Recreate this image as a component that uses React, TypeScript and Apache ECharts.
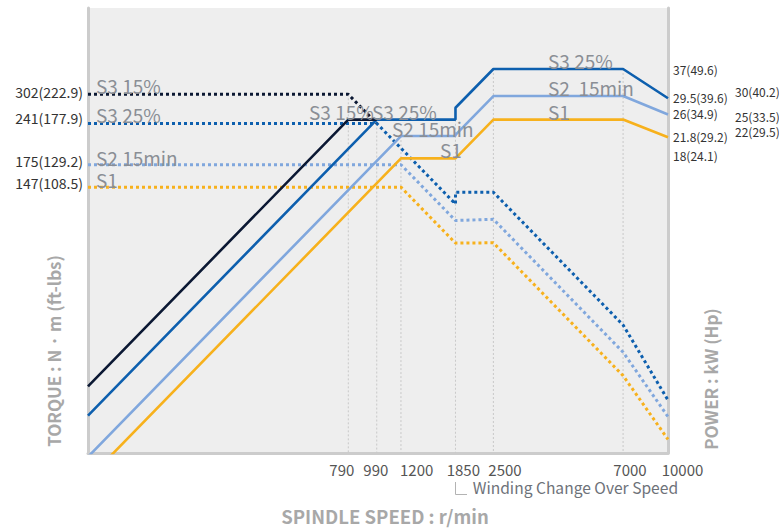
import React, { useEffect, useRef } from 'react';
import * as echarts from 'echarts';

// ---- data: [spindle speed r/min, value] ----
const S3_15_POWER: [number, number][] = [[100, 3.16], [790, 25], [990, 25]];
const S3_25_POWER: [number, number][] = [[100, 2.52], [990, 25], [1850, 25], [1850, 27.4], [2500, 37], [7000, 37], [10000, 29.5]];
const S2_POWER: [number, number][] = [[100, 1.83], [1200, 22], [1850, 22], [1850, 22.2], [2500, 30], [7000, 30], [10000, 26]];
const S1_POWER: [number, number][] = [[100, 1.54], [1200, 18.5], [1850, 18.5], [2500, 25], [7000, 25], [10000, 21.8]];

const S3_15_TORQUE: [number, number][] = [[100, 302], [790, 302], [990, 241]];
const S3_25_TORQUE: [number, number][] = [[100, 241], [990, 241], [1850, 129], [1850, 141.3], [2500, 141.3], [7000, 50.5], [10000, 28.2]];
const S2_TORQUE: [number, number][] = [[100, 175], [1200, 175], [1850, 113.5], [2500, 114.6], [7000, 40.9], [10000, 24.8]];
const S1_TORQUE: [number, number][] = [[100, 147], [1200, 147], [1850, 95.3], [2500, 95.5], [7000, 34.1], [10000, 20.8]];

// drop lines: speed, top value, axis (0 torque, 1 power)
const DROP_SPEEDS = [790, 990, 1200, 1850, 2500, 7000];
const DROP_TOPS = [302, 25, 22, 27.4, 37, 37];
const DROP_AXES = [0, 1, 1, 1, 1, 1];

const X_TICK_LABELS = ['790', '990', '1200', '1850', '2500', '7000', '10000'];
const TORQUE_LABELS = ['302(222.9)', '241(177.9)', '175(129.2)', '147(108.5)'];
const POWER_LABELS_A = ['37(49.6)', '29.5(39.6)', '26(34.9)', '21.8(29.2)', '18(24.1)'];
const POWER_LABELS_B = ['30(40.2)', '25(33.5)', '22(29.5)'];
const LEFT_CURVE_NAMES = ['S3 15%', 'S3 25%', 'S2 15min', 'S1'];
const MID_CURVE_NAMES = ['S3 15%', 'S3 25%', 'S2 15min', 'S1'];
const TOP_CURVE_NAMES = ['S3 25%', 'S2  15min', 'S1'];

// ---- layout ----
const X_MIN = 100, X_MAX = 10000;
const T_MIN = 18.72, T_MAX = 589.6;
const P_MIN = 1.885, P_MAX = 59.38;
const FONT = "'Noto Sans CJK KR', 'Noto Sans', sans-serif";
const C_S3_15 = '#0b1833';
const C_S3_25 = '#0d5fae';
const C_S2 = '#80a7dd';
const C_S1 = '#f7b11c';
const LABEL_GRAY = '#8a8e95';

const TICK_X = [329.3, 363.3, 400, 446.7, 488.3, 613.3, 661.7];
const TORQUE_LABEL_Y = [92, 117.5, 161, 183];
const POWER_A_Y = [69, 97.3, 113.3, 136.7, 155];
const POWER_B_Y = [91.7, 116, 131.7];
const LEFT_NAME_Y = [85.7, 114.7, 157.3, 179.7];
const MID_NAME_POS = [[309, 111.3], [372, 111.3], [392, 128.7], [440, 149]];
const TOP_NAME_Y = [60.3, 87, 111.3];

function text(t: string, x: number, y: number, size: number, color: string, align = 'left', weight = 'normal', rotation = 0) {
  return {
    type: 'text',
    x, y, rotation,
    z: 100,
    silent: true,
    style: {
      text: t,
      fill: color,
      fontSize: size,
      fontFamily: FONT,
      fontWeight: weight,
      align, textAlign: align,
      verticalAlign: 'middle', textVerticalAlign: 'middle',
    },
  };
}

export default function App() {
  const ref = useRef<HTMLDivElement>(null);
  useEffect(() => {
    if (!ref.current) return;
    const chart = echarts.init(ref.current, null, { renderer: 'svg' });

    const powerLine = (name: string, data: [number, number][], color: string, z: number) => ({
      name, type: 'line', data, xAxisIndex: 0, yAxisIndex: 1, showSymbol: false, symbol: 'none', z,
      lineStyle: { color, width: 2.6 }, animation: false, silent: true,
    });
    const torqueLine = (name: string, data: [number, number][], color: string, z: number) => ({
      name, type: 'line', data, xAxisIndex: 0, yAxisIndex: 0, showSymbol: false, symbol: 'none', z,
      lineStyle: { color, width: 3, type: [3, 3], cap: 'butt' }, animation: false, silent: true,
    });
    const drops = DROP_SPEEDS.map((s, i) => ({
      type: 'line', xAxisIndex: 0, yAxisIndex: DROP_AXES[i], showSymbol: false, symbol: 'none', z: 1,
      data: [[s, DROP_TOPS[i]], [s, DROP_AXES[i] === 0 ? T_MIN : P_MIN]],
      lineStyle: { color: '#c9c9c9', width: 1, type: [2, 2] }, silent: true,
    }));

    const graphics: any[] = [];
    X_TICK_LABELS.forEach((t, i) => graphics.push(text(t, TICK_X[i], 469, 15, '#555555')));
    TORQUE_LABELS.forEach((t, i) => graphics.push(text(t, 83, TORQUE_LABEL_Y[i], 14, '#333333', 'right')));
    POWER_LABELS_A.forEach((t, i) => graphics.push(text(t, 673, POWER_A_Y[i], 12, '#333333')));
    POWER_LABELS_B.forEach((t, i) => graphics.push(text(t, 735, POWER_B_Y[i], 12, '#333333')));
    LEFT_CURVE_NAMES.forEach((t, i) => graphics.push(text(t, 96, LEFT_NAME_Y[i], 19, LABEL_GRAY)));
    MID_CURVE_NAMES.forEach((t, i) => graphics.push(text(t, MID_NAME_POS[i][0], MID_NAME_POS[i][1], 19, LABEL_GRAY)));
    TOP_CURVE_NAMES.forEach((t, i) => graphics.push(text(t, 548, TOP_NAME_Y[i], 19, LABEL_GRAY)));
    graphics.push(text('TORQUE : N · m (ft-lbs)', 53, 351, 17, '#a8a8a8', 'center', 'bold', Math.PI / 2));
    graphics.push(text('POWER : kW (Hp)', 710, 379, 17, '#a8a8a8', 'center', 'bold', Math.PI / 2));
    graphics.push(text('SPINDLE SPEED : r/min', 385, 516, 18.5, '#a8a8a8', 'center', 'bold'));
    graphics.push(text('Winding Change Over Speed', 472.7, 486.5, 15.6, '#6e7279'));
    graphics.push({
      type: 'polyline', silent: true, z: 100,
      shape: { points: [[455.5, 482], [455.5, 494.5], [467, 494.5]] },
      style: { stroke: '#b3b3b3', lineWidth: 1, fill: 'none' },
    });

    chart.setOption({
      animation: false,
      backgroundColor: '#ffffff',
      grid: { left: 88, top: 8, width: 580, height: 445, show: true, backgroundColor: '#eeeeee', borderWidth: 0 },
      xAxis: {
        type: 'log', logBase: 10, min: X_MIN, max: X_MAX,
        axisLine: { show: true, lineStyle: { color: '#cccccc', width: 3 } },
        axisTick: { show: false }, axisLabel: { show: false }, splitLine: { show: false },
      },
      yAxis: [
        {
          type: 'log', logBase: 10, min: T_MIN, max: T_MAX, position: 'left',
          axisLine: { show: true, lineStyle: { color: '#cccccc', width: 3 } },
          axisTick: { show: false }, axisLabel: { show: false }, splitLine: { show: false },
        },
        {
          type: 'log', logBase: 10, min: P_MIN, max: P_MAX, position: 'right',
          axisLine: { show: true, lineStyle: { color: '#cccccc', width: 3 } },
          axisTick: { show: false }, axisLabel: { show: false }, splitLine: { show: false },
        },
      ],
      series: [
        ...drops,
        torqueLine('S3 15% torque', S3_15_TORQUE, C_S3_15, 3),
        torqueLine('S3 25% torque', S3_25_TORQUE, C_S3_25, 3),
        torqueLine('S2 15min torque', S2_TORQUE, C_S2, 3),
        torqueLine('S1 torque', S1_TORQUE, C_S1, 3),
        powerLine('S3 25% power', S3_25_POWER, C_S3_25, 4),
        powerLine('S3 15% power', S3_15_POWER, C_S3_15, 4),
        powerLine('S2 15min power', S2_POWER, C_S2, 4),
        powerLine('S1 power', S1_POWER, C_S1, 4),
      ],
      graphic: graphics,
    });
    return () => chart.dispose();
  }, []);
  return <div ref={ref} style={{ position: 'fixed', left: 0, top: 0, width: 779, height: 530 }} />;
}
